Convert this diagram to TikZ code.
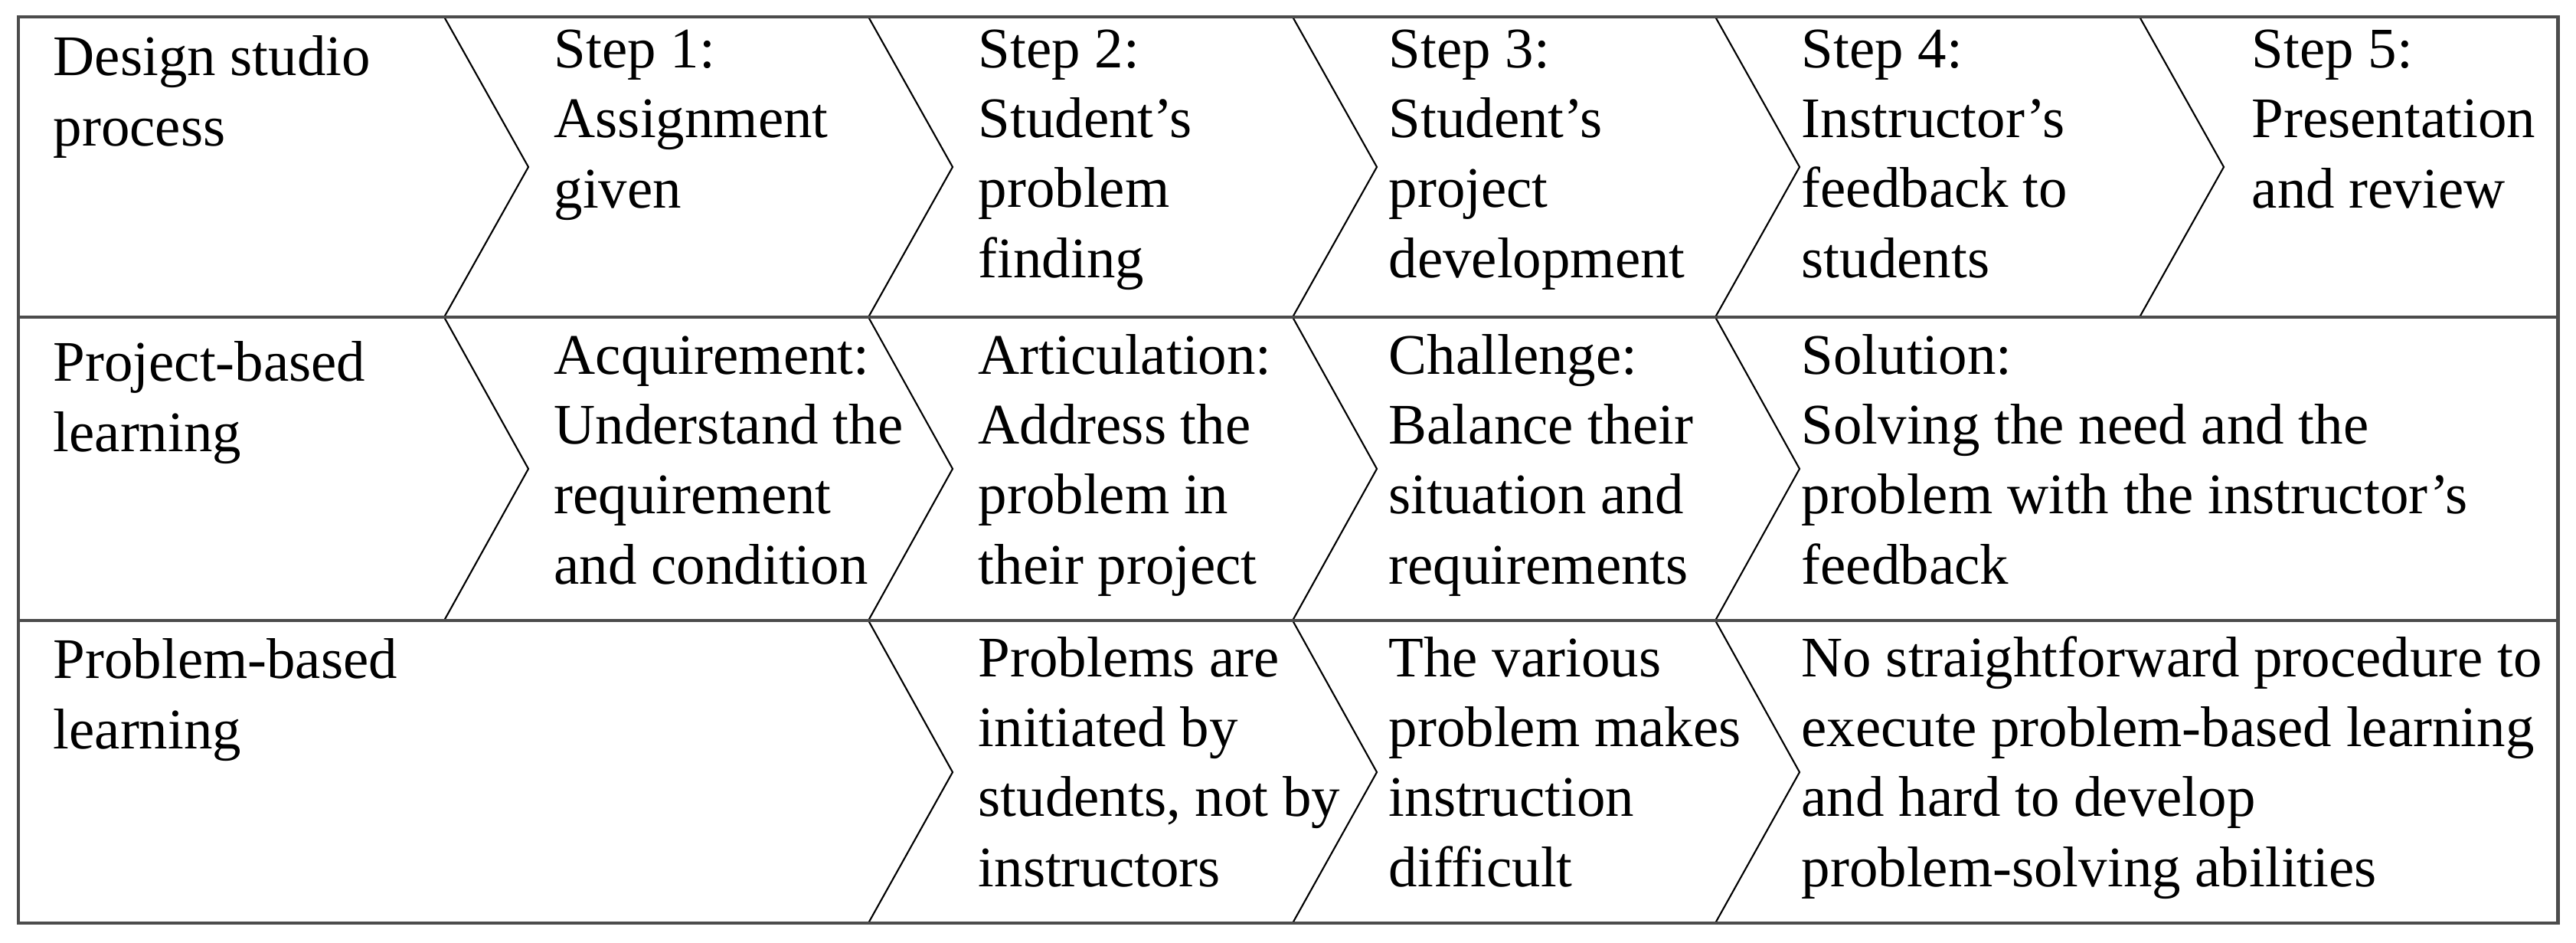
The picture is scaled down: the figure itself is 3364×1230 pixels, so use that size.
\documentclass[tikz,border=0pt]{standalone}
\usepackage{fontspec}
\setmainfont{Liberation Serif}
\begin{document}
\begin{tikzpicture}[x=0.01cm,y=-0.01cm,
    frame/.style={draw=black!70, line width=1.4pt},
    chev/.style={draw=black, line width=0.6pt},
    cell/.style={anchor=base west, inner sep=0pt, align=left,
      font=\fontsize{21.3}{25.9}\selectfont}]
  \useasboundingbox (0,0) rectangle (3364,1230);
  % chevrons, row by row
  \foreach \x in {580,1134,1688,2240,2794}
    \draw[chev] (\x,22) -- (\x+110,218) -- (\x,414);
  \foreach \x in {580,1134,1688,2240}
    \draw[chev] (\x,414) -- (\x+110,612) -- (\x,810);
  \foreach \x in {1134,1688,2240}
    \draw[chev] (\x,810) -- (\x+110,1008) -- (\x,1205);
  % frame and row rules
  \draw[frame] (24,22) rectangle (3340,1205);
  \draw[frame] (24,414) -- (3340,414);
  \draw[frame] (24,810) -- (3340,810);
  % design studio process (placed at the last baseline)
  \node[cell] (dsp) at (69,190) {Design studio\\process};
  \node[cell] (s1) at (723,271) {Step 1:\\Assignment\\given};
  \node[cell] (s2) at (1277,362) {Step 2:\\Student’s\\problem\\finding};
  \node[cell] (s3) at (1813,362) {Step 3:\\Student’s\\project\\development};
  \node[cell] (s4) at (2352,362) {Step 4:\\Instructor’s\\feedback to\\students};
  \node[cell] (s5) at (2940,271) {Step 5:\\Presentation\\and review};
  % project-based learning
  \node[cell] (pjbl) at (69,589) {Project-based\\learning};
  \node[cell] (acq) at (723,762) {Acquirement:\\Understand the\\requirement\\and condition};
  \node[cell] (art) at (1277,762) {Articulation:\\Address the\\problem in\\their project};
  \node[cell] (cha) at (1813,762) {Challenge:\\Balance their\\situation and\\requirements};
  \node[cell] (sol) at (2352,762) {Solution:\\Solving the need and the\\problem with the instructor’s\\feedback};
  % problem-based learning
  \node[cell] (pbl) at (69,977) {Problem-based\\learning};
  \node[cell] (pin) at (1277,1157) {Problems are\\initiated by\\students, not by\\instructors};
  \node[cell] (var) at (1813,1157) {The various\\problem makes\\instruction\\difficult};
  \node[cell] (nsp) at (2352,1157) {No straightforward procedure to\\execute problem-based learning\\and hard to develop\\problem-solving abilities};
\end{tikzpicture}
\end{document}
